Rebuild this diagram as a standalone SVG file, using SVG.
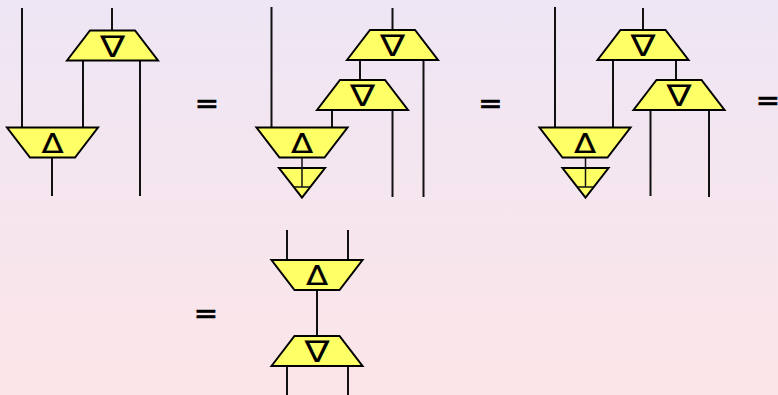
<svg xmlns="http://www.w3.org/2000/svg" width="778" height="395" viewBox="0 0 778 395">
<style>
.t{fill:#ffff66;stroke:#000;stroke-width:2;stroke-linejoin:miter}
.w{fill:none;stroke:#111;stroke-width:2}
.g{font-family:"DejaVu Sans",sans-serif;font-size:27px;fill:#000;stroke:#000;stroke-width:.2;text-anchor:middle}
.n{font-family:"DejaVu Sans",sans-serif;font-size:30px;fill:#000;text-anchor:middle}
.e{font-family:"DejaVu Sans",sans-serif;font-size:29px;fill:#000;stroke:#000;stroke-width:.7;text-anchor:middle}
</style>
<defs>
<linearGradient id="bg" x1="0" y1="0" x2="0" y2="1"><stop offset="0" stop-color="#eee6f5"/><stop offset="1" stop-color="#fce5e8"/></linearGradient>
<polygon id="dn" class="t" points="-45.500,15 -22.500,-15 22.500,-15 45.500,15"/>
<polygon id="up" class="t" points="-45.500,-15 45.500,-15 22.500,15 -22.500,15"/>
</defs>
<rect width="778" height="395" fill="url(#bg)"/>
<g id="connectors">
<path class="w" d="M22 8V127M112 8V30M83 61V127M140 61V196M52 158V196"/>
<path class="w" d="M271.500 7V127M392.500 8V30M360 60V80M332 110V127M392.500 110V197M423.500 60V197"/>
<path class="w" d="M555 7V127M643 8V30M613 60V127M676 60V80M650.500 111V196M709 110V197"/>
<path class="w" d="M287 230V259M348 230V259M317 290V335M287 366V395M348 366V395"/>
</g>
<g id="d1-nabla"><use href="#dn" x="112.500" y="45.500"/><text class="n" transform="translate(112.500 57) scale(1.25 1)">∇</text></g>
<g id="d1-delta"><use href="#up" x="52.500" y="142.500"/><text class="g" transform="translate(52.500 152.500) scale(1.2 1)">Δ</text></g>
<g id="eq1"><text class="e" x="207" y="113">=</text></g>
<g id="d2-nabla1"><use href="#dn" x="392.500" y="45"/><text class="n" transform="translate(392.500 56) scale(1.25 1)">∇</text></g>
<g id="d2-nabla2"><use href="#dn" x="362.500" y="95"/><text class="n" transform="translate(362.500 106) scale(1.25 1)">∇</text></g>
<g id="d2-delta"><use href="#up" x="302" y="142.500"/><text class="g" transform="translate(302 152.500) scale(1.2 1)">Δ</text></g>
<g id="d2-counit"><polygon class="t" points="279,168 325,168 302,197.500"/><path class="w" d="M302 158V187M294 187H310" style="stroke-width:1.500"/></g>
<g id="eq2"><text class="e" x="490.500" y="113">=</text></g>
<g id="d3-nabla1"><use href="#dn" x="643" y="45"/><text class="n" transform="translate(643 56) scale(1.25 1)">∇</text></g>
<g id="d3-nabla2"><use href="#dn" x="679" y="95"/><text class="n" transform="translate(679 106) scale(1.25 1)">∇</text></g>
<g id="d3-delta"><use href="#up" x="585" y="142.500"/><text class="g" transform="translate(585 152.500) scale(1.2 1)">Δ</text></g>
<g id="d3-counit"><polygon class="t" points="562.500,168 608.500,168 585.500,197.500"/><path class="w" d="M585.500 158V187M578 187H593" style="stroke-width:1.500"/></g>
<g id="eq3"><text class="e" x="768" y="110">=</text></g>
<g id="eq4"><text class="e" x="206" y="323">=</text></g>
<g id="d4-delta"><use href="#up" x="317" y="275"/><text class="g" transform="translate(317 285) scale(1.2 1)">Δ</text></g>
<g id="d4-nabla"><use href="#dn" x="317" y="351"/><text class="n" transform="translate(317 362) scale(1.25 1)">∇</text></g>
</svg>
